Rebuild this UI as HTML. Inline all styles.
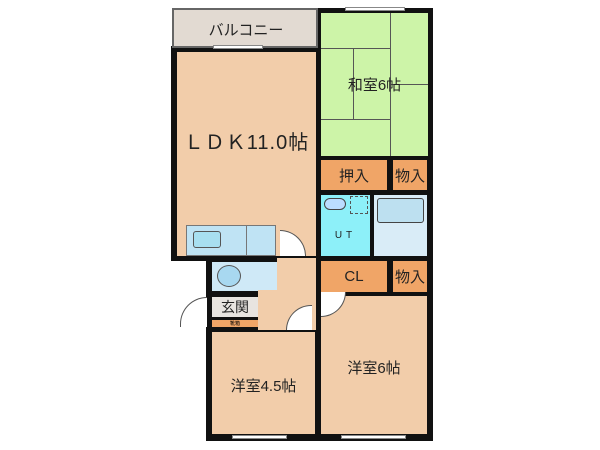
<!DOCTYPE html>
<html><head><meta charset="utf-8"><style>
body{margin:0;width:600px;height:450px;background:#fff;position:relative;overflow:hidden;font-family:"Liberation Sans","Noto Sans CJK JP",sans-serif}
div{position:absolute;box-sizing:border-box}
.k{background:#111}
.t{display:flex;align-items:center;justify-content:center;color:#222}
.w{background:#fff;border:1px solid #888}
</style></head><body>
<div class="k" style="left:171px;top:46px;width:151px;height:215px"></div>
<div class="k" style="left:316px;top:8px;width:117px;height:254px"></div>
<div class="k" style="left:316px;top:256px;width:117px;height:185px"></div>
<div class="k" style="left:206px;top:256px;width:116px;height:185px"></div>
<div style="left:172px;top:8px;width:146px;height:40px;border:2px solid #666;background:#e2dad2"></div>
<div class="t" style="left:176px;top:12px;width:140px;height:34px;font-size:15px">バルコニー</div>
<div class="t" style="left:177px;top:52px;width:139px;height:204px;background:#f2cdaa;font-size:20px;letter-spacing:1px;padding-bottom:28px">ＬＤＫ11.0帖</div>
<div class="w" style="left:213px;top:45px;width:50px;height:4px"></div>
<div style="left:186px;top:225px;width:90px;height:31px;background:#bfe3f4;border:1px solid #777"></div>
<div style="left:193px;top:231px;width:28px;height:17px;background:#a8dff0;border:1px solid #555;border-radius:3px"></div>
<div style="left:246px;top:225px;width:1px;height:31px;background:#777"></div>
<div style="left:280px;top:230px;width:26px;height:26px;border:1px solid #555;border-left:none;border-bottom:none;border-radius:0 26px 0 0;background:#fff"></div>
<div class="t" style="left:321px;top:13px;width:107px;height:143px;background:#cdf4a8"></div>
<div style="left:321px;top:48px;width:70px;height:1px;background:#555"></div>
<div style="left:353px;top:48px;width:1px;height:71px;background:#555"></div>
<div style="left:321px;top:119px;width:70px;height:1px;background:#555"></div>
<div style="left:390px;top:13px;width:1px;height:143px;background:#555"></div>
<div style="left:390px;top:84px;width:38px;height:1px;background:#555"></div>
<div class="t" style="left:321px;top:70px;width:107px;height:28px;font-size:15px">和室6帖</div>
<div class="w" style="left:345px;top:7px;width:60px;height:4px"></div>
<div class="t" style="left:321px;top:160px;width:66px;height:30px;background:#f0a567;font-size:15px">押入</div>
<div class="t" style="left:393px;top:160px;width:34px;height:30px;background:#f0a567;font-size:15px">物入</div>
<div class="t" style="left:321px;top:195px;width:49px;height:61px;background:#8df0f9;font-size:10px;letter-spacing:4px;padding-top:20px">UT</div>
<div style="left:324px;top:198px;width:22px;height:12px;border:1px solid #444;border-radius:6px;background:#bdf"></div>
<div style="left:350px;top:196px;width:18px;height:18px;border:1px dashed #555"></div>
<div style="left:374px;top:195px;width:53px;height:61px;background:#d9ecf7"></div>
<div style="left:377px;top:198px;width:47px;height:25px;border:1px solid #444;border-radius:3px;background:#bde0f0"></div>
<div style="left:212px;top:262px;width:65px;height:29px;background:#cfe9f7"></div>
<div style="left:217px;top:265px;width:24px;height:22px;border:1px solid #555;border-radius:50%;background:#a8d8f0"></div>
<div style="left:278px;top:262px;width:20px;height:26px;border:1px solid #555;border-left:none;border-bottom:none;border-radius:0 26px 0 0;background:#fff"></div>
<div style="left:258px;top:290px;width:58px;height:40px;background:#f2cdaa"></div>
<div style="left:277px;top:258px;width:39px;height:35px;background:#f2cdaa"></div>
<div style="left:286px;top:305px;width:26px;height:25px;border:1px solid #555;border-right:none;border-bottom:none;border-radius:26px 0 0 0;background:#fff"></div>
<div style="left:180px;top:297px;width:27px;height:30px;border:1px solid #555;border-right:none;border-bottom:none;border-radius:30px 0 0 0;background:#fff"></div>
<div class="t" style="left:212px;top:297px;width:46px;height:20px;background:#e8e4e0;font-size:14px">玄関</div>
<div style="left:212px;top:320px;width:46px;height:7px;background:#f0a567;font-size:5px;text-align:center">靴箱</div>
<div class="t" style="left:321px;top:261px;width:66px;height:31px;background:#f0a567;font-size:15px">CL</div>
<div class="t" style="left:393px;top:261px;width:34px;height:31px;background:#f0a567;font-size:15px">物入</div>
<div class="t" style="left:212px;top:332px;width:103px;height:102px;background:#f2cdaa;font-size:15px;padding-top:4px">洋室4.5帖</div>
<div style="left:321px;top:296px;width:106px;height:138px;background:#f2cdaa"></div>
<div style="left:321px;top:292px;width:25px;height:25px;border:1px solid #555;border-left:none;border-top:none;border-radius:0 0 25px 0;background:#fff"></div>
<div class="t" style="left:321px;top:355px;width:106px;height:24px;font-size:15px">洋室6帖</div>
<div class="w" style="left:232px;top:435px;width:55px;height:4px"></div>
<div class="w" style="left:341px;top:435px;width:65px;height:4px"></div>
</body></html>
